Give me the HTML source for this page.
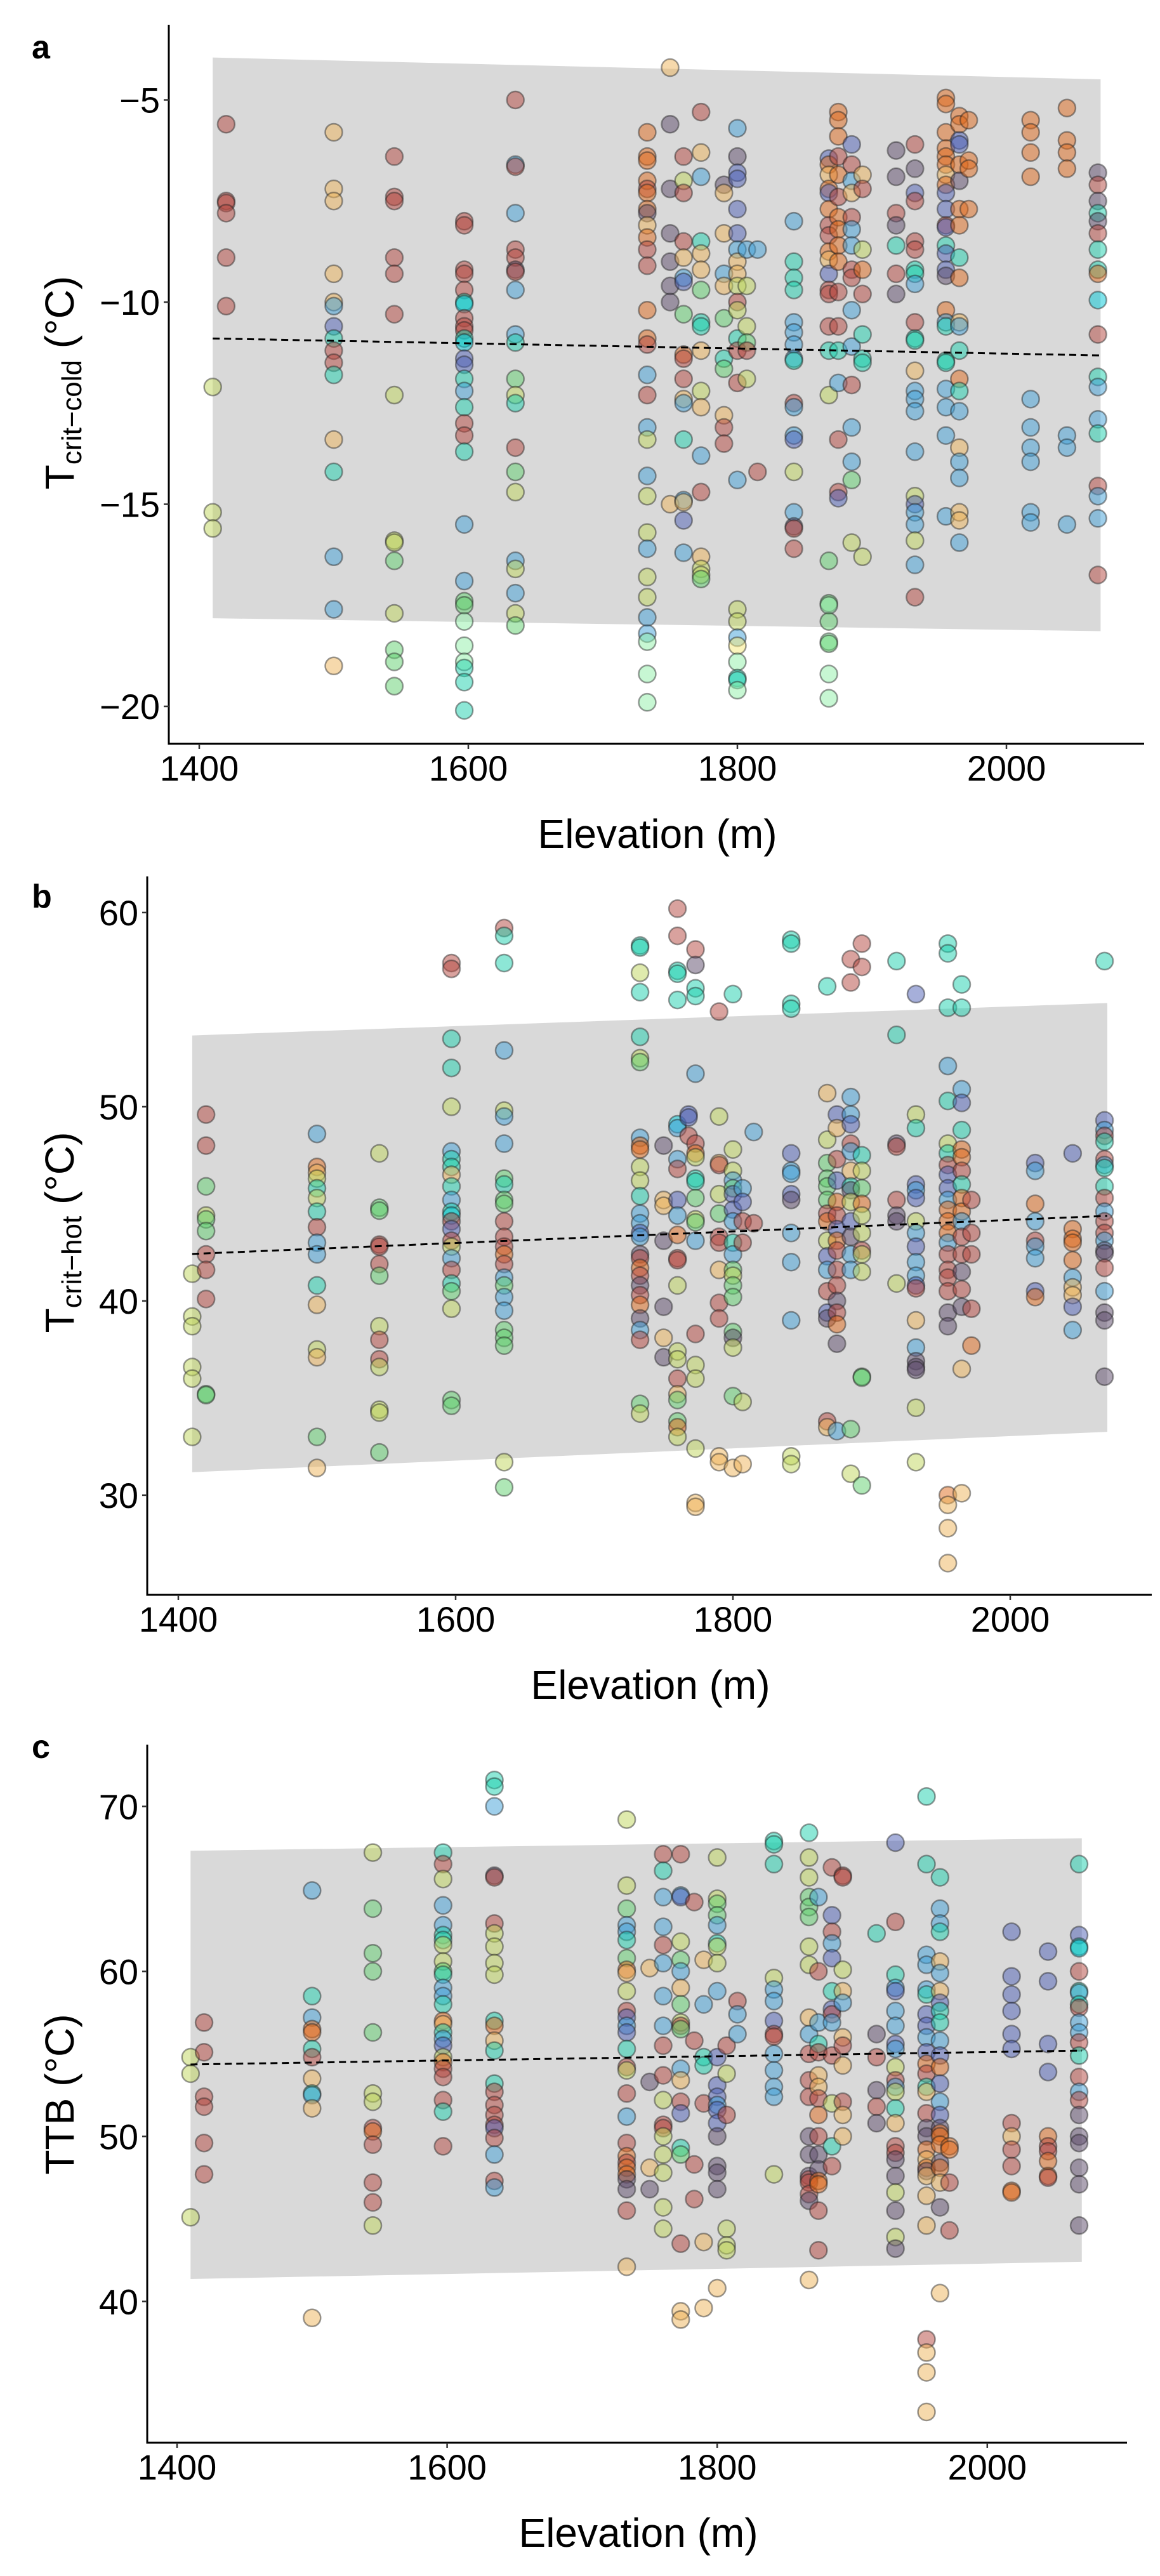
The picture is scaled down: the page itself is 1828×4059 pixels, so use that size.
<!DOCTYPE html>
<html><head><meta charset="utf-8">
<style>
html,body{margin:0;padding:0;background:#fff;}
svg{display:block;}
text{font-family:"Liberation Sans",Arial,sans-serif;fill:#000;}
</style></head>
<body>
<svg id="fig" width="1828" height="4059" viewBox="0 0 1828 4059" xmlns="http://www.w3.org/2000/svg"></svg>
<script>
// ---------- Panel a: Tcrit-cold ----------
const aSites=[1410,1420,1500,1545,1597,1635,1733,1750,1760,1773,1790,1800,1807,1815,1842,1868,1875,1885,1893,1918,1932,1955,1965,1972,2018,2045,2068];
const aVals=[
[-12.1,-15.2,-15.6],
[-5.6,-7.5,-7.55,-7.8,-8.9,-10.1],
[-5.8,-7.2,-7.5,-9.3,-10.0,-10.1,-10.6,-10.9,-11.2,-11.5,-11.8,-13.4,-14.2,-16.3,-17.6,-19.0],
[-6.4,-7.4,-7.5,-8.9,-9.3,-10.3,-12.3,-15.9,-15.95,-16.4,-17.7,-18.6,-18.9,-19.5],
[-8.0,-8.1,-9.2,-9.3,-9.7,-10.0,-10.05,-10.4,-10.6,-10.7,-10.9,-11.0,-11.4,-11.55,-11.9,-12.2,-12.6,-13.0,-13.3,-13.7,-15.5,-16.9,-17.4,-17.5,-17.9,-18.5,-18.9,-19.05,-19.4,-20.1],
[-5.0,-6.6,-6.65,-7.8,-8.7,-8.9,-9.2,-9.25,-9.7,-10.8,-11.0,-11.9,-12.3,-12.5,-13.6,-14.2,-14.7,-16.4,-16.6,-17.2,-17.7,-18.0],
[-5.8,-6.4,-6.5,-7.0,-7.2,-7.3,-7.7,-7.8,-8.1,-8.4,-8.7,-9.1,-10.2,-10.9,-11.05,-11.8,-12.3,-13.1,-13.4,-14.3,-14.8,-15.7,-16.1,-16.8,-17.3,-17.8,-18.2,-18.4,-19.2,-19.9],
[-4.2,-5.6,-7.2,-8.3,-9.0,-9.6,-10.0,-15.0],
[-6.4,-7.0,-7.3,-8.5,-8.9,-9.4,-9.5,-10.3,-11.3,-11.4,-11.9,-12.4,-12.5,-13.4,-14.9,-14.95,-15.4,-16.2],
[-5.3,-6.3,-6.9,-8.5,-8.8,-9.2,-9.7,-10.5,-10.6,-11.2,-12.2,-12.6,-13.8,-14.7,-16.3,-16.6,-16.75,-16.85],
[-7.1,-7.3,-8.3,-9.3,-9.6,-10.4,-11.4,-11.65,-12.8,-13.1,-13.5],
[-5.7,-6.4,-6.8,-6.95,-7.7,-8.3,-8.7,-9.0,-9.3,-9.6,-10.0,-10.2,-10.9,-11.2,-12.0,-14.4,-17.6,-17.9,-18.3,-18.5,-18.9,-19.3,-19.35,-19.6],
[-8.7,-9.6,-10.6,-11.0,-11.2,-11.9],
[-8.7,-14.2],
[-8.0,-9.0,-9.4,-9.7,-10.5,-10.75,-11.05,-11.4,-11.45,-12.5,-12.6,-13.3,-13.4,-14.2,-15.2,-15.55,-15.6,-16.1],
[-6.45,-6.6,-6.85,-7.2,-7.3,-7.7,-8.1,-8.35,-8.75,-8.95,-9.3,-9.7,-9.8,-10.6,-11.2,-12.3,-16.4,-17.45,-17.5,-17.9,-18.4,-18.45,-19.2,-19.8],
[-5.3,-5.5,-5.9,-6.4,-6.85,-7.4,-7.9,-8.2,-8.6,-9.0,-9.75,-10.6,-11.2,-12.0,-13.4,-14.7,-14.85],
[-6.1,-6.6,-7.0,-7.3,-7.9,-8.2,-8.6,-9.2,-9.4,-10.2,-11.1,-12.05,-13.1,-13.95,-14.4,-15.95],
[-6.85,-7.2,-8.7,-9.2,-9.8,-10.8,-11.4,-11.5,-16.3],
[-6.25,-6.9,-7.8,-8.1,-8.6,-9.3,-9.8],
[-6.1,-6.7,-7.3,-7.5,-8.5,-8.7,-9.2,-9.3,-9.55,-10.5,-10.9,-10.95,-11.7,-12.2,-12.4,-12.7,-13.7,-14.8,-15.0,-15.2,-15.5,-15.9,-16.5,-17.3],
[-4.95,-5.1,-5.8,-6.2,-6.4,-6.6,-6.85,-7.1,-7.3,-7.7,-8.1,-8.15,-8.6,-8.8,-9.2,-9.35,-10.2,-10.5,-10.6,-11.45,-11.5,-12.15,-12.6,-13.3,-15.3],
[-5.4,-5.6,-6.0,-6.1,-6.6,-7.0,-7.7,-8.1,-8.9,-9.4,-10.5,-10.6,-11.2,-11.9,-12.2,-12.7,-13.6,-13.95,-14.35,-15.2,-15.4,-15.95],
[-5.5,-6.5,-6.7,-7.7],
[-5.5,-5.8,-6.3,-6.9,-12.4,-13.1,-13.6,-13.95,-15.2,-15.45],
[-5.2,-6.0,-6.3,-6.7,-13.3,-13.6,-15.5],
[-6.8,-7.1,-7.5,-7.8,-8.0,-8.3,-8.7,-9.2,-9.3,-9.95,-10.8,-11.85,-12.1,-12.9,-13.25,-14.55,-14.8,-15.35,-16.75]
];
const aCols=["yyy","rrrrrr","tttttbnqrrqtqbbtg","rrrrrryyygygggw".slice(0,14),
"rrrrrqcrrrqcnnqbqrrqbbgglllqqqw".slice(0,30),"rbrbrrprbbqgyqrgybybyg",
"oooorooptorroorbrbybyybyybblll","tpppppptt".slice(0,8),"ryrrtbngorrtbqbtnbg".slice(0,18),
"rtbqttgqqtytbrtyyg","pttbtgqgtrrt".slice(0,11),"bpnnnnbttyryqrrbyybwlqql","byygry","br",
"bqqqbbbbqrbbnybprry".slice(0,18),"notonorrotnrrrqyggfglgll".replace("f","l"),"ooororoooorrqbrrn",
"nrbtrbbrrbbrbbgy","tryorqqqy".slice(0,9),"pprpqrp","rpnrrrqqbrqqtbbbbynbbybr",
"ooooootonnrnqnnpobqqqbbb".concat("b").slice(0,25),"oonnopooqotbqoqbtbbttb","oooo","oooobbbbbb","oooobbb","prpqprqqocrqbbqrbbr"];

// ---------- Panel b: Tcrit-hot ----------
const bSites=[1410,1420,1500,1545,1597,1635,1733,1750,1760,1768,1773,1790,1800,1807,1815,1842,1868,1875,1885,1893,1918,1932,1955,1965,1972,2018,2045,2068];
const bVals=[
[41.4,39.2,38.7,36.6,36.0,33.0],
[49.6,48.0,45.9,44.4,44.2,43.6,42.4,41.6,40.1,35.2,35.15],
[48.6,46.9,46.6,46.3,45.8,45.3,44.6,43.8,43.0,42.4,40.8,39.8,37.5,37.1,33.0,31.4],
[47.6,44.8,44.65,42.9,42.8,41.9,41.3,38.7,38.0,37.0,36.6,34.4,34.25,32.2],
[57.4,57.1,53.5,52.0,50.0,47.7,47.3,46.9,46.5,45.9,45.2,44.6,44.4,44.1,43.7,43.1,42.8,42.2,41.6,40.9,40.5,39.6,34.9,34.6],
[59.2,58.8,57.4,52.9,49.8,49.5,48.1,46.3,46.0,45.2,45.0,44.1,43.3,42.8,42.4,41.9,41.2,40.8,40.2,39.5,38.5,38.1,37.7,31.7,30.4],
[58.3,58.2,56.9,55.9,53.6,52.5,52.3,48.4,48.0,47.8,46.9,46.2,45.4,44.5,44.0,43.5,43.3,42.4,42.2,41.7,41.3,40.8,40.3,39.8,39.1,38.5,38.0,34.7,34.2],
[48.0,45.2,44.9,43.1,39.7,38.1,37.1],
[60.2,58.8,57.0,56.85,55.5,49.1,48.9,47.3,46.8,45.2,44.4,43.4,42.2,42.1,40.8,37.4,37.0,36.0,35.2,34.9,33.8,33.5,33.0],
[49.6,49.45,48.5],
[58.1,57.3,56.1,55.7,51.7,48.1,47.6,47.4,46.3,46.15,45.3,44.2,44.05,43.1,38.3,36.7,36.0,32.4,29.6,29.4],
[54.9,49.5,47.1,47.0,45.5,44.5,43.3,43.0,41.6,39.9,39.1,32.0,31.7],
[55.8,47.8,46.7,46.2,45.8,45.5,44.7,44.1,43.0,42.4,41.6,41.3,40.8,40.2,38.4,38.1,37.6,35.1,31.4],
[45.8,45.1,44.1,43.0,34.8,31.6],
[48.7,44.0],
[58.6,58.4,55.3,55.05,47.6,46.7,46.55,45.5,45.2,43.5,42.0,39.0,32.0,31.6],
[56.2,50.7,48.3,47.1,46.3,45.9,45.2,44.5,44.1,43.1,42.3,41.6,40.5,39.4,39.1,33.8,33.5],
[49.6,48.9,47.3,46.2,45.1,44.4,43.7,43.1,42.6,41.6,40.8,40.0,39.4,38.8,37.8,33.3],
[57.6,56.4,50.5,49.6,49.1,48.1,47.7,46.7,45.9,45.7,45.1,44.1,43.3,42.4,41.6,33.4,31.1],
[58.4,57.2,47.5,46.7,45.8,45.0,44.4,43.5,42.6,42.4,41.5,36.1,36.05,30.5],
[57.5,53.7,48.1,47.95,45.2,44.4,44.1,40.9],
[55.8,49.6,48.9,46.0,45.7,45.3,44.1,43.5,42.8,42.0,41.3,40.8,40.65,39.0,37.6,36.9,36.6,36.45,34.5,31.7],
[58.4,57.9,55.1,52.1,50.3,48.1,47.6,47.0,46.5,45.8,45.2,44.7,44.1,43.5,43.0,42.4,41.6,41.2,40.5,39.4,38.7,30.0,29.5,28.3,26.5],
[56.3,55.1,50.9,50.2,48.8,47.8,47.4,46.7,46.0,45.3,44.6,44.1,43.3,42.4,41.5,40.6,39.7,36.5,30.1],
[45.2,43.5,42.4,39.6,37.7],
[47.1,46.7,45.0,44.1,43.1,42.8,42.2,40.5,40.2],
[47.6,43.7,43.2,43.0,42.1,41.2,40.7,40.3,39.7,38.5],
[57.5,49.3,48.8,48.5,48.2,47.3,47.0,46.85,45.9,45.3,44.6,44.1,43.5,43.1,42.6,42.45,41.7,40.5,39.4,39.0,36.1]
];
const bCols=["yyyyyy","rrgyggrrrgg","botyqyqrbbqtytgt","yggrrrgyrryyyg","rrqqybqqtqbqcrnrybrqgygg",
"rqqbybbgqggrrrorbgbbgggyg".slice(0,25),"qqyqqygbooyyqbbnbprorprop".concat("brgy").slice(0,29),
"pttpptp","rrqqqcbbrnbor".concat("ryyyrtggoyy").slice(0,23),"nnr","rpqqbroyqqgygbryyyttt".slice(0,20),
"rytrygrrtrrtt","qyybgnnbqbgygggpyggt".replace("ggt","gt").slice(0,19),"bnrryt","br","qqqqnbbnpbbbyy",
"qtyggggroynbrnprtt".slice(0,17),"ntrnornorrrprops","rrbbnrbtqpynpbbgy","rrqygoyyryygg".concat("g").slice(0,14),
"qqprrppy","nyqnbnybnbbnrtbpppyy","qqqbqyqrnnbooobrrrrppottttt".slice(0,25),"qqbnqoorqoobrrprpt".concat("t").slice(0,19),
"rrrro","nbobrbbnoor".slice(0,9),"noooobttnbn".slice(0,10),"qnbrqrbqqrbrrbpprbppp"];

// ---------- Panel c: TTB ----------
const cSites=[1410,1420,1500,1545,1597,1635,1733,1750,1760,1773,1783,1790,1800,1807,1815,1842,1868,1875,1885,1893,1918,1932,1955,1965,1972,2018,2045,2068];
const cVals=[
[54.8,53.8,45.1],
[56.9,55.1,52.4,51.8,49.6,47.7],
[64.9,58.5,57.2,56.5,56.3,55.3,54.8,53.5,52.6,52.5,51.7,39.0],
[67.2,63.8,61.1,60.0,56.3,52.6,52.1,50.5,50.3,49.5,47.2,46.0,44.6],
[67.2,66.5,65.6,64.0,62.8,62.2,61.9,61.6,60.6,60.0,59.8,59.0,58.5,58.0,57.0,56.8,56.3,55.9,55.5,54.8,54.5,54.1,53.6,52.2,51.5,49.4],
[71.6,71.2,70.0,65.8,65.7,62.9,62.3,61.5,60.5,59.8,57.0,56.7,55.8,55.2,53.2,52.7,51.9,51.3,50.7,50.5,49.9,48.9,47.3,46.9],
[69.2,65.2,63.8,62.8,62.4,61.9,60.8,60.1,59.9,58.8,57.6,57.2,56.7,56.3,55.3,54.2,54.0,52.6,51.2,49.6,48.8,48.4,48.1,47.7,47.4,46.8,45.5,42.1],
[60.2,53.3,48.1,46.8],
[67.1,66.1,64.5,62.7,61.6,60.5,58.5,56.7,55.5,53.7,52.2,50.7,50.5,50.0,48.9,47.8,45.7,44.4],
[67.1,64.6,64.5,61.8,60.7,60.0,59.0,58.0,56.9,56.7,56.5,54.1,53.4,52.1,51.4,49.3,48.9,43.5,39.4,38.9],
[64.2,55.8,48.3,46.2],
[60.7,58.0,54.8,54.3,52.0,43.6,39.6],
[66.9,64.4,64.1,63.4,62.8,61.7,61.5,60.5,58.8,54.8,53.1,52.4,51.9,51.6,50.8,50.0,48.2,47.8,46.8,40.8],
[55.5,53.8,51.3,44.4,43.4,43.1],
[58.2,57.4,56.2],
[67.9,67.7,66.5,59.6,58.9,58.2,57.0,56.2,56.05,55.0,54.0,53.0,52.4,47.7],
[68.4,66.9,65.7,64.5,63.9,63.3,61.5,60.4,57.2,56.2,55.0,53.4,52.4,50.0,48.9,47.6,47.4,47.2,46.5,46.1,41.3],
[64.5,60.0,56.9,55.6,55.1,53.7,53.0,52.3,51.3,50.0,48.9,48.0,47.3,47.1,45.5,43.1],
[66.3,63.4,62.4,61.7,60.8,58.8,57.7,57.4,56.9,54.9,52.0,49.4,48.2],
[65.8,65.7,60.1,58.8,58.1,56.0,55.5,54.3,52.1,51.3,50.0],
[62.3,56.2,54.8,52.8,51.8,50.8],
[67.8,63.0,59.8,59.0,58.8,57.6,56.7,55.6,55.3,54.2,53.4,53.0,52.7,51.7,50.8,49.4,49.0,48.6,47.6,46.6,45.5,43.9,43.2],
[70.6,66.5,61.0,60.4,58.9,58.6,57.4,56.7,56.0,55.1,54.4,53.8,53.0,52.7,51.4,50.5,50.0,49.2,48.6,48.1,47.9,47.6,46.4,44.6,37.7,36.9,35.7,33.3],
[65.7,63.8,62.9,62.4,60.6,59.9,58.8,58.1,57.6,56.9,55.8,54.9,54.2,53.2,52.1,51.3,50.5,50.2,50.0,49.5,48.4,48.1,47.2,45.7,40.5],
[49.4,49.2,47.2,44.3],
[62.4,59.7,58.6,57.6,56.2,55.3,50.8,50.0,49.2,48.2,46.7,46.6],
[61.2,59.4,55.6,53.9,50.0,49.4,49.1,48.5,47.6,47.5],
[66.5,62.2,61.5,61.4,60.0,58.8,58.7,58.0,57.8,56.9,56.3,55.7,54.9,53.6,52.7,52.2,51.3,50.0,49.6,48.1,47.1,44.6]
];
const cCols=["yyy","rrrrrr","bqbooqrtqbtt","yggggyyrorrry","qrybbqqyygqbbqotqbnyorrrqr","qqbprryyyyqotqqrrrrnrbrb",
"yygbbqgotyrnbnqryrbrorooppr".concat("t"),"tptp","rqbbrbbbrryrryyyyy","rbnygbtgyrgbtrnqgrtt","rrrr","tbqqrtt",
"yyggbqyybnnnbnnpppp".concat("t"),"ryryyy","rbb","qqqybbnrrbbbby","qyygggyytbrrrppprrrpt","brbqrttrorppoorrp".slice(0,16),
"rnrbnqnrbryqr","rrytbtrtrtt","qprprp","nrqbnbbnbyrbyqtrrppypyp","qqbbbqnnbnorqtrppotoptttrttt".slice(0,28),
"qbbqtbtnqqbnonbnpooopo".concat("tpt").slice(0,25),"oorr","nnnnnnrtrroo","nnnnorroor","qnqcrqbqrbbrqrbrppppppp".slice(0,22)];

// ---------- Fit bands & trends (values at elev 1410 and 2070) ----------
const bandX=[1410,2070];
const aUpper=[-3.95,-4.49], aLower=[-17.82,-18.14], aTrend=[-10.90,-11.32];
const bUpper=[53.67,55.34], bLower=[31.18,33.26], bTrend=[42.42,44.38];
const cUpper=[67.31,68.07], cLower=[41.36,42.40], cTrend=[54.36,55.20];
const xTicks=[1400,1600,1800,2000];
const aYTicks=[-5,-10,-15,-20];
const bYTicks=[30,40,50,60];
const cYTicks=[40,50,60,70];

const palette={r:"#b3453d",o:"#e06a1b",t:"#eeb45a",y:"#bfd65c",g:"#5fcf6e",l:"#8ff0a8",q:"#1ccfad",c:"#00c8d8",b:"#3f9fd8",n:"#4d5fb5",p:"#5c4a6a",w:"#f7ea7a"};

const NS="http://www.w3.org/2000/svg";
const svg=document.getElementById('fig');
function mk(tag,attrs,parent){const e=document.createElementNS(NS,tag);for(const k in attrs)e.setAttribute(k,attrs[k]);(parent||svg).appendChild(e);return e;}

function panel(P){
  const g=mk('g',{});
  
  
  const X=e=>P.x0+(e-1400)*P.kx;
  const Y=v=>P.y0+(P.v0-v)*P.ky;
  // band
  const band=mk('polygon',{points:`${X(bandX[0])},${Y(P.up[0])} ${X(bandX[1])},${Y(P.up[1])} ${X(bandX[1])},${Y(P.lo[1])} ${X(bandX[0])},${Y(P.lo[0])}`,fill:'#d9d9d9'},g);
  
  
  // points
  const pts=mk('g',{},g);
  
  
  P.sites.forEach((s,i)=>{
    P.vals[i].forEach((v,j)=>{
      const ch=(P.cols[i]||'')[j]||'b';
      const c=mk('circle',{cx:X(s),cy:Y(v),r:13.5,fill:palette[ch]||palette.b,'fill-opacity':0.5,stroke:'#222','stroke-opacity':0.45,'stroke-width':2.5},pts);
      
      
    });
  });
  // trend
  const tl=mk('line',{x1:X(bandX[0]),y1:Y(P.tr[0]),x2:X(bandX[1]),y2:Y(P.tr[1]),stroke:'#000','stroke-width':3,'stroke-dasharray':'11 7'},g);
  
  
  // axes
  const ya=mk('line',{x1:P.ax,y1:P.top,x2:P.ax,y2:P.bot+1.5,stroke:'#000','stroke-width':3},g);
  
  
  const xa=mk('line',{x1:P.ax-1.5,y1:P.bot,x2:P.right,y2:P.bot,stroke:'#000','stroke-width':3},g);
  
  
  xTicks.forEach(t=>{
    const tk=mk('line',{x1:X(t),y1:P.bot,x2:X(t),y2:P.bot+8,stroke:'#333','stroke-width':2.5},g);
    
    
    const tx=mk('text',{x:X(t),y:P.bot+58,'text-anchor':'middle','font-size':56},g);
    tx.textContent=t;
    
    
  });
  P.yt.forEach(t=>{
    const tk=mk('line',{x1:P.ax-8,y1:Y(t),x2:P.ax,y2:Y(t),stroke:'#333','stroke-width':2.5},g);
    
    
    const tx=mk('text',{x:P.ax-14,y:Y(t)+20,'text-anchor':'end','font-size':56},g);
    tx.textContent=(t<0?'\u2212'+(-t):t);
    
    
  });
  const xt=mk('text',{x:P.xtx,y:P.bot+164,'text-anchor':'middle','font-size':64},g);
  xt.textContent='Elevation (m)';
  
  
  const yt=mk('text',{transform:`translate(116,${P.ytc}) rotate(-90)`,'text-anchor':'middle','font-size':64},g);
  
  
  yt.innerHTML=P.ytitle;
  const lb=mk('text',{x:50,y:P.lby,'font-size':52,'font-weight':'bold'},g);
  lb.textContent=P.letter;
  
  
}

panel({name:'panel-a-tcrit-cold',sites:aSites,vals:aVals,cols:aCols,up:aUpper,lo:aLower,tr:aTrend,yt:aYTicks,
  x0:314,kx:2.12,y0:157.5,v0:-5,ky:63.7,ax:266,top:39,bot:1172,right:1803,xtx:1036,ytc:603,lby:92,letter:'a',
  ytitle:'T<tspan font-size="44" dy="12">crit\u2212cold</tspan><tspan dy="-12"> (°C)</tspan>'});
panel({name:'panel-b-tcrit-hot',sites:bSites,vals:bVals,cols:bCols,up:bUpper,lo:bLower,tr:bTrend,yt:bYTicks,
  x0:281,kx:2.185,y0:1437.9,v0:60,ky:30.6,ax:232,top:1381,bot:2513,right:1815,xtx:1025,ytc:1942,lby:1430,letter:'b',
  ytitle:'T<tspan font-size="44" dy="12">crit\u2212hot</tspan><tspan dy="-12"> (°C)</tspan>'});
panel({name:'panel-c-ttb',sites:cSites,vals:cVals,cols:cCols,up:cUpper,lo:cLower,tr:cTrend,yt:cYTicks,
  x0:279,kx:2.128,y0:2846.3,v0:70,ky:26.0,ax:232,top:2749,bot:3849,right:1776,xtx:1006,ytc:3300,lby:2770,letter:'c',
  ytitle:'TTB  (°C)'});
</script>
</body></html>
